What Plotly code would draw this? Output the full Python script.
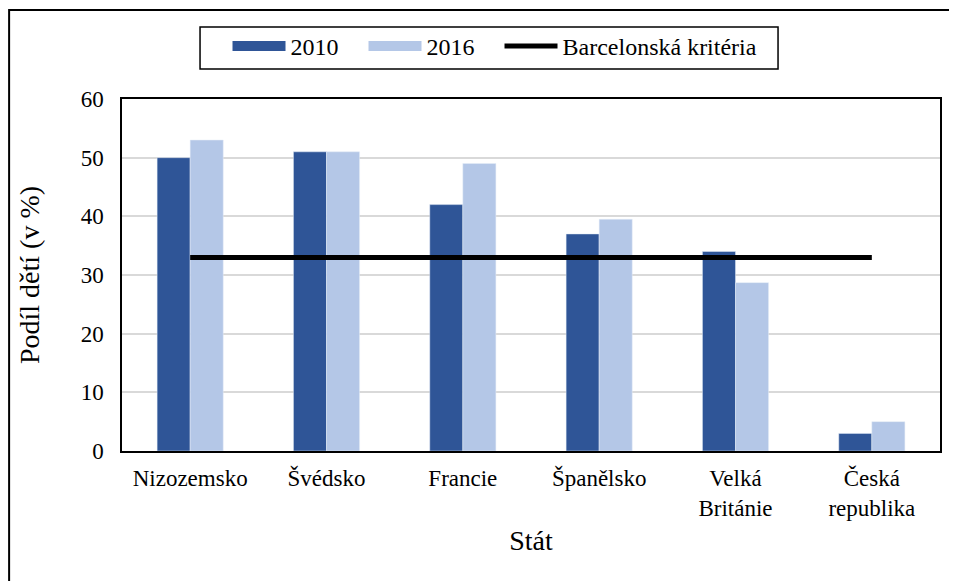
import plotly.graph_objects as go

categories = ["Nizozemsko", "Švédsko", "Francie", "Španělsko", "Velká<br>Británie", "Česká<br>republika"]
values_2010 = [50, 51, 42, 37, 34, 3]
values_2016 = [53, 51, 49, 39.5, 28.7, 5]
barcelona = [33, 33, 33, 33, 33, 33]

FONT = "Liberation Serif"
C2010 = "#2f5597"
C2016 = "#b4c7e7"

fig = go.Figure()
fig.add_trace(go.Bar(x=categories, y=values_2010, name="2010", marker=dict(color=C2010),
                     legendgroup="2010", showlegend=False))
fig.add_trace(go.Bar(x=categories, y=values_2016, name="2016", marker=dict(color=C2016),
                     legendgroup="2016", showlegend=False))
# legend entries drawn as wide bands (Excel-style legend keys)
fig.add_trace(go.Scatter(x=[None], y=[None], name="2010", mode="lines", legendgroup="2010",
                         line=dict(color=C2010, width=14), legendwidth=68))
fig.add_trace(go.Scatter(x=[None], y=[None], name="2016", mode="lines", legendgroup="2016",
                         line=dict(color=C2016, width=14), legendwidth=68))
fig.add_trace(go.Scatter(x=categories, y=barcelona, name="Barcelonská kritéria", mode="lines",
                         line=dict(color="black", width=5)))

fig.update_layout(
    width=957, height=581,
    margin=dict(l=114, r=25, t=91, b=138, autoexpand=False),
    paper_bgcolor="white", plot_bgcolor="white",
    font=dict(family=FONT, size=23, color="black"),
    barmode="group", bargap=0.515, bargroupgap=0,
    showlegend=True,
    legend=dict(orientation="h", x=0.456, xanchor="center", y=1.213, yanchor="top",
                borderwidth=0, bgcolor="rgba(0,0,0,0)", font=dict(family=FONT, size=24),
                itemwidth=53, tracegroupgap=0),
    xaxis=dict(title=dict(text="Stát", standoff=10), showline=True, linecolor="black", linewidth=1.5,
               mirror=True, ticks="", ticklabelstandoff=6, automargin=False),
    yaxis=dict(title=dict(text="Podíl dětí (v %)", standoff=33), range=[0, 60], dtick=10,
               showgrid=True, gridcolor="#d9d9d9", gridwidth=1.5,
               showline=True, linecolor="black", linewidth=1.5, mirror=True,
               ticks="", ticklabelstandoff=12, zeroline=False, automargin=False),
    shapes=[
        dict(type="rect", xref="paper", yref="paper", x0=-0.138, x1=1.2, y0=-1.0, y1=1.253,
             line=dict(color="black", width=2), fillcolor="rgba(0,0,0,0)", layer="below"),
        dict(type="rect", xref="paper", yref="paper", x0=0.0954, x1=0.802, y0=1.0852, y1=1.2045,
             line=dict(color="black", width=1.5), fillcolor="rgba(0,0,0,0)", layer="above"),
    ],
)

fig.write_html("out.html")
